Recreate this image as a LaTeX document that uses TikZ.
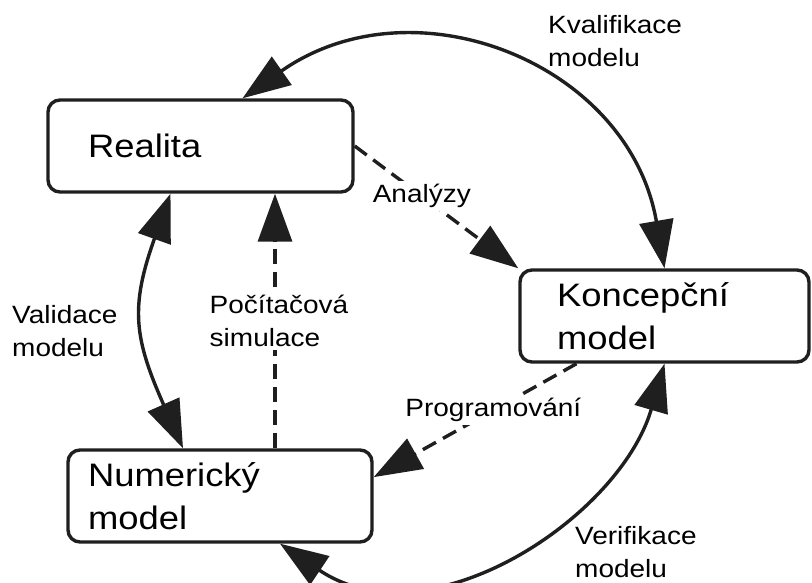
\documentclass[tikz,border=0pt]{standalone}
\usepackage{fontspec}
\setmainfont[FakeStretch=1.12]{Liberation Sans}
\usepackage{tikz}
\usetikzlibrary{positioning,calc}
\usetikzlibrary{arrows.meta}
\colorlet{linegray}{black!88}
\tikzstyle{arrow} = [line width=3.4pt, draw=linegray, {Triangle[length=48pt,width=34pt]}-{Triangle[length=48pt,width=34pt]}]
\tikzstyle{dasharrow} = [line width=3.4pt, draw=linegray, dash pattern=on 15pt off 8pt, -{Triangle[length=48pt,width=34pt]}]

\begin{document}
\begin{tikzpicture}[x=1pt, y=-1pt, stage/.style={rectangle, draw=linegray, line width=3.4pt, rounded corners=12pt, minimum height=92pt, align=left, font=\fontsize{32.5}{43}\selectfont}, lbl/.style={align=left, inner sep=3pt, font=\fontsize{25}{33}\selectfont}]

			\useasboundingbox (0,0) rectangle (812,582);

			% STAGES

			\node [stage, text width=225pt, inner xsep=40pt] (realita) at (200.5,146) {Realita};
			\node [stage, text width=215pt, inner xsep=37pt] (koncept) at (664.5,316) {Koncepční\\model};
			\node [stage, text width=264pt, inner xsep=20pt] (numericky) at (220,496) {Numerický\\model};

			% CYCLE

			\draw [arrow] (koncept.north) .. controls (629,63) and (414,-22) .. ([xshift=42pt]realita.north);
			\draw [arrow] ([xshift=-30pt]realita.south) .. controls (130,307) and (134,338) .. ([xshift=-37pt]numericky.north);
			\draw [arrow] ([xshift=60pt]numericky.south) .. controls (429,644) and (620,517) .. (koncept.south);

			\draw [dasharrow] (realita.east) -- node [lbl, fill=white, pos=0.41] (analyzy) {Analýzy} (koncept.north west);
			\draw [dasharrow] ([xshift=-88pt]koncept.south) -- node [lbl, fill=white, pos=0.41] (programovani) {Programování} (numericky.7);
			\draw [dasharrow] ([xshift=55pt]numericky.north) -- node [lbl, fill=white, xshift=4pt] (simulace) {Počítačová\\simulace} ([xshift=55pt]numericky.north |- realita.south);

			% LABELS

			\node [lbl, anchor=west] (kvalifikace) at (545,41) {Kvalifikace\\modelu};
			\node [lbl, anchor=west] (validace) at (9,331.5) {Validace\\modelu};
			\node [lbl, anchor=west] (verifikace) at (572,552) {Verifikace\\modelu};

		\end{tikzpicture}
\end{document}
